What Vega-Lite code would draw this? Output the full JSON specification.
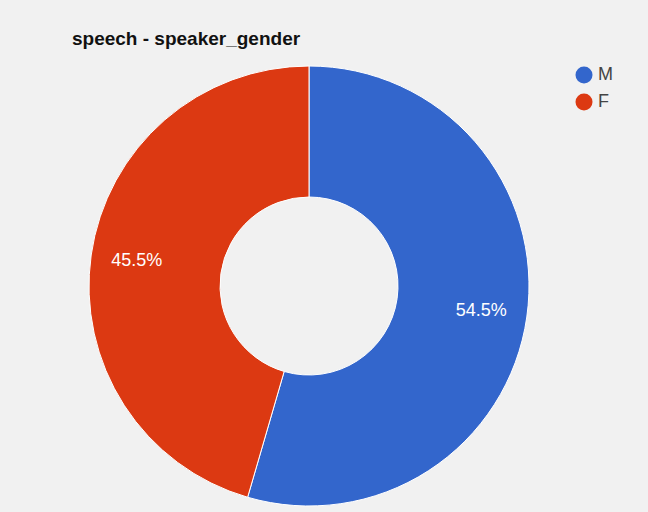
{
  "$schema": "https://vega.github.io/schema/vega-lite/v6.json",
  "autosize": {"type": "none"},
  "width": 440,
  "height": 440,
  "padding": {"left": 89, "top": 66, "right": 119, "bottom": 6},
  "background": "#f1f1f1",
  "config": {"view": {"stroke": null}, "font": "Liberation Sans"},
  "title": {
    "text": "speech - speaker_gender",
    "anchor": "start",
    "frame": "bounds",
    "dx": -15,
    "offset": 15,
    "fontSize": 19,
    "fontWeight": "bold",
    "color": "#111111",
    "font": "Liberation Sans"
  },
  "data": {
    "values": [
      {"gender": "M", "share": 0.545, "order": 1},
      {"gender": "F", "share": 0.455, "order": 2}
    ]
  },
  "encoding": {
    "theta": {"field": "share", "type": "quantitative", "stack": true},
    "order": {"field": "order", "type": "quantitative"}
  },
  "layer": [
    {
      "mark": {"type": "arc", "radius": 220, "innerRadius": 89, "stroke": "#ffffff", "strokeWidth": 1},
      "encoding": {
        "color": {
          "field": "gender",
          "type": "nominal",
          "scale": {"domain": ["M", "F"], "range": ["#3366cc", "#dc3912"]},
          "legend": {
            "title": null,
            "orient": "right",
            "offset": 46,
            "symbolType": "circle",
            "symbolSize": 290,
            "symbolStrokeWidth": 0,
            "labelFontSize": 18,
            "labelColor": "#444444",
            "labelFont": "Liberation Sans",
            "rowPadding": 9,
            "labelOffset": 5
          }
        }
      }
    },
    {
      "mark": {"type": "text", "radius": 174, "fontSize": 18, "color": "#ffffff", "font": "Liberation Sans"},
      "encoding": {
        "text": {"field": "share", "type": "quantitative", "format": ".1%"}
      }
    }
  ]
}
